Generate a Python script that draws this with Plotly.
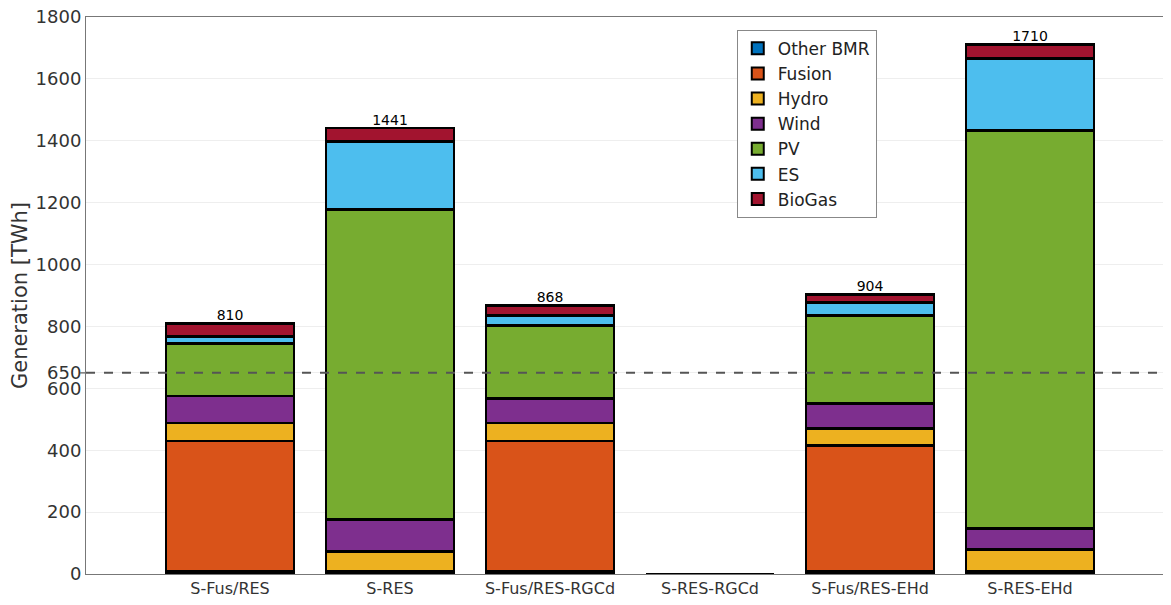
import plotly.graph_objects as go

categories = ["S-Fus/RES", "S-RES", "S-Fus/RES-RGCd", "S-RES-RGCd", "S-Fus/RES-EHd", "S-RES-EHd"]

other_bmr = [9, 9, 9, 0, 9, 9]
fusion = [421, 0, 421, 0, 406, 0]
hydro = [58, 65, 58, 0, 56, 69]
wind = [87, 101, 78, 0, 81, 69]
pv = [171, 1003, 236, 0, 283, 1285]
es = [22, 219, 34, 0, 43, 233]
biogas = [42, 44, 32, 0, 26, 45]

totals = [810, 1441, 868, 0, 904, 1710]
threshold = 650

series_names = ["Other BMR", "Fusion", "Hydro", "Wind", "PV", "ES", "BioGas"]
series_values = [other_bmr, fusion, hydro, wind, pv, es, biogas]
series_colors = ["#0072BD", "#D95319", "#EDB120", "#7E2F8E", "#77AC30", "#4DBEEE", "#A2142F"]

FONT = "Verdana, DejaVu Sans, sans-serif"

fig = go.Figure()
for name, vals, col in zip(series_names, series_values, series_colors):
    fig.add_trace(go.Bar(
        x=categories, y=vals, name=name,
        marker=dict(color=col, line=dict(color="black", width=2.8)),
    ))

lab_x = [c for c, t in zip(categories, totals) if t > 0]
lab_y = [t for t in totals if t > 0]
fig.add_trace(go.Scatter(
    x=lab_x, y=lab_y, mode="text", text=[str(t) for t in lab_y],
    textposition="top center", textfont=dict(size=14, color="black", family=FONT),
    showlegend=False, hoverinfo="skip", cliponaxis=False,
))

fig.add_shape(type="line", xref="paper", yref="y", x0=0, x1=1, y0=threshold, y1=threshold,
              line=dict(color="#555555", width=2, dash="dash"))
fig.add_shape(type="line", xref="paper", yref="y", x0=-6/1081, x1=0, y0=threshold, y1=threshold,
              line=dict(color="#777777", width=1.5))

fig.update_layout(
    width=1163, height=597,
    margin=dict(l=78, r=4, t=9, b=31),
    barmode="stack", bargap=0.2,
    plot_bgcolor="white", paper_bgcolor="white",
    font=dict(family=FONT, color="#333333"),
    legend=dict(
        x=0.602, y=0.977, xanchor="left", yanchor="top",
        bgcolor="white", bordercolor="#888888", borderwidth=1,
        font=dict(size=17, color="#222222", family=FONT),
        traceorder="normal", itemsizing="constant",
        tracegroupgap=0,
    ),
    xaxis=dict(
        range=[-0.9, 5.856], showline=True, linecolor="#777777", mirror=True,
        tickfont=dict(size=16, color="#333333"), ticks="", automargin=False,
    ),
    yaxis=dict(
        range=[0, 1800], showline=True, linecolor="#777777", mirror=True,
        tickvals=[0, 200, 400, 600, threshold, 800, 1000, 1200, 1400, 1600, 1800],
        ticktext=["0", "200", "400", "600", "650", "800", "1000", "1200", "1400", "1600", "1800"],
        tickfont=dict(size=18, color="#333333"),
        ticklabeloverflow="allow",
        showgrid=True, gridcolor="#eeeeee", gridwidth=1,
        title=dict(text="Generation [TWh]", font=dict(size=21, color="#333333"), standoff=8),
        zeroline=False, automargin=False,
    ),
)

fig.write_html("out.html")
